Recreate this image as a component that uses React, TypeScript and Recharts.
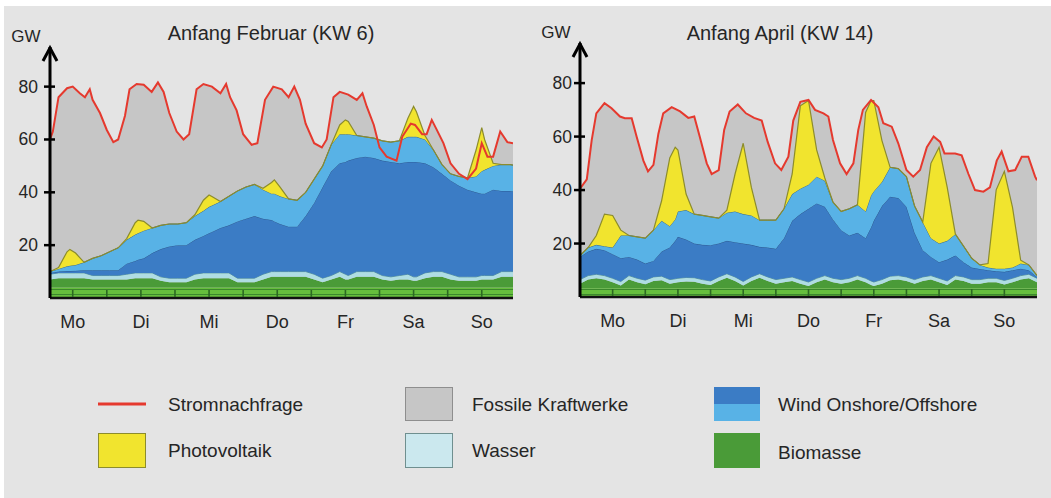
import React from 'react';
import { ComposedChart, Area, Line, XAxis, YAxis } from 'recharts';

// ---------------- Anfang Februar (KW 6) ----------------
const febHours = [0, 3, 6, 7, 9, 12, 15, 18, 21, 24, 27, 30, 31, 33, 36, 39, 42, 45, 48, 51, 54, 56, 57, 60, 63, 66, 69, 72, 75, 78, 79, 81, 84, 87, 90, 93, 96, 99, 102, 104, 105, 108, 111, 114, 117, 120, 123, 126, 128, 129, 132, 135, 138, 141, 144, 147, 150, 152, 153, 156, 159, 162, 163];
const febBiomassBase = [4, 4, 4, 4, 4, 4, 4, 4, 4, 4, 4, 4, 4, 4, 4, 4, 4, 4, 4, 4, 4, 4, 4, 4, 4, 4, 4, 4, 4, 4, 4, 4, 4, 4, 4, 4, 4, 4, 4, 4, 4, 4, 4, 4, 4, 4, 4, 4, 4, 4, 4, 4, 4, 4, 4, 4, 4, 4, 4, 4, 4, 4, 4];
const febBiomassTop = [7, 7.5, 7.5, 7.5, 7.5, 7.5, 7, 7, 7, 7, 7, 7.5, 7.5, 7.5, 7.5, 6.5, 6, 6, 6, 7, 7.5, 7.5, 7.5, 7.5, 7.5, 6, 6, 6, 7, 8, 8, 8, 8, 8, 8, 7, 6, 7, 8, 7, 7, 8, 8, 8, 7, 6.5, 7, 7, 6.5, 6.5, 7.5, 8, 8, 7, 6.5, 6.5, 6.5, 7, 7, 7, 8, 8, 8];
const febWaterTop = [9, 9.5, 9.5, 9.5, 9.5, 9.5, 8.5, 8.5, 8.5, 8.5, 9, 9.5, 9.5, 9.5, 9.5, 8, 7.5, 7.5, 7.5, 9, 9.5, 9.5, 9.5, 9.5, 9.5, 7.5, 7.5, 7.5, 9, 10, 10, 10, 10, 10, 10, 9, 7.5, 8.5, 10, 9, 8.5, 10, 10, 10, 8.5, 8, 8.5, 9, 8, 8, 9.5, 10, 10, 9, 8, 8, 8, 8.5, 8.5, 8.5, 10, 10, 10];
const febWindOnTop = [9.5, 10, 10.2, 10.2, 10.3, 10.5, 10.5, 10.5, 10.5, 10.5, 13, 14, 14.5, 15, 17, 18.5, 19.5, 20, 20, 22, 23.5, 24.5, 25, 26.5, 27.5, 29, 30, 31, 30, 29.5, 29, 28, 27, 27, 31, 36, 42, 48, 51, 51.5, 52, 53, 53.5, 53, 52, 51.5, 51, 51.5, 51.5, 51.5, 51, 49.5, 47, 44.5, 42.5, 41, 40, 39.5, 39.5, 41, 40.5, 40.5, 40.3];
const febWindOffTop = [10, 11, 12, 12.2, 12.5, 13.5, 15, 16, 17.5, 19, 22, 24, 24.5, 25.5, 26.5, 27.5, 28, 28, 28.5, 31, 33, 34.5, 35, 36.5, 38.5, 40.5, 42, 43, 41, 39.5, 39.5, 38.5, 37.5, 37, 40, 45, 50, 58, 62, 62, 62, 61.5, 61, 60.5, 59.5, 59, 59.5, 61, 61, 61, 60, 56, 50.5, 47, 46, 45.5, 46, 48, 48.5, 50, 50.5, 50.5, 50.3];
const febSolar = [0, 0.5, 5.5, 6.2, 4.5, 0, 0, 0, 0, 0, 0.5, 4.5, 5, 3.5, 0, 0, 0, 0, 0, 0.5, 4, 4.5, 3.4, 0, 0, 0, 0, 0, 0.5, 4.2, 5.2, 3.5, 0, 0, 0, 0, 0, 0, 3.5, 5.4, 4.8, 0, 0, 0, 0, 0, 0, 7, 11.5, 9.5, 1.5, 0, 0, 0, 0, 0, 10, 16.5, 11.5, 1, 0, 0, 0];
const febDemandHours = [0, 1, 3, 6, 8, 10.5, 12.3, 14, 15, 17.6, 20, 22.3, 24, 26.4, 28, 30.5, 33, 35.8, 38, 40, 42, 44.6, 47, 49, 51.6, 54, 57, 60, 62, 63.4, 65.7, 68, 71, 73, 75.7, 78.6, 81.6, 84, 86, 88, 90, 93, 95.7, 97.4, 99.8, 102, 105, 108, 110, 111.5, 114, 116, 118.5, 122, 124, 127, 128.5, 131, 132.6, 134.4, 136, 138.5, 141, 144, 147, 150, 152, 154, 156, 158.5, 161, 163];
const febDemand = [60, 63, 76, 79.4, 80, 77.5, 76, 79, 75, 70, 63.6, 59, 60, 69, 79, 81, 80.7, 78, 81.6, 78, 70, 63, 60, 62, 79, 81, 80, 77.5, 81, 76, 71, 62, 58, 58.6, 75, 80, 79, 76, 80, 75, 66, 58.6, 57, 60, 76, 78, 77, 75, 77.5, 72.5, 65.5, 57, 53.5, 52, 61, 66, 65.5, 62, 62, 67.4, 64, 58.6, 51, 47, 45, 49, 58.6, 53.5, 53.5, 63, 59, 58.6];
const febTickHours = [8, 20, 32, 44, 56, 68, 80, 92, 104, 116, 128, 140, 152];
const febLabelHours = [8, 32, 56, 80, 104, 128, 152];

// ---------------- Anfang April (KW 14) ----------------
const aprHours = [0, 3, 6, 9, 12, 15, 18, 21, 24, 27, 30, 33, 35, 36, 39, 42, 45, 48, 51, 54, 57, 60, 63, 66, 69, 72, 75, 78, 81, 84, 87, 90, 93, 96, 99, 102, 105, 107, 108, 111, 114, 117, 120, 123, 126, 129, 132, 135, 138, 141, 144, 147, 150, 153, 156, 159, 162, 165, 168];
const aprBiomassBase = [3.3, 3.3, 3.3, 3.3, 3.3, 3.3, 3.3, 3.3, 3.3, 3.3, 3.3, 3.3, 3.3, 3.3, 3.3, 3.3, 3.3, 3.3, 3.3, 3.3, 3.3, 3.3, 3.3, 3.3, 3.3, 3.3, 3.3, 3.3, 3.3, 3.3, 3.3, 3.3, 3.3, 3.3, 3.3, 3.3, 3.3, 3.3, 3.3, 3.3, 3.3, 3.3, 3.3, 3.3, 3.3, 3.3, 3.3, 3.3, 3.3, 3.3, 3.3, 3.3, 3.3, 3.3, 3.3, 3.3, 3.3, 3.3, 3.3];
const aprBiomassTop = [5, 6.5, 7, 6.5, 5.5, 4.3, 6.5, 5.5, 4.8, 6, 6.3, 5, 5.3, 5.5, 5.8, 5.7, 5, 4.5, 6, 7.2, 6, 4.3, 6, 7.2, 6, 5, 5.5, 6, 5, 4.1, 5.5, 6.5, 5.5, 5, 5.5, 6.5, 5.5, 4.5, 4.1, 5, 6.3, 6.5, 6, 5, 6, 6.5, 5.5, 4.5, 6.5, 6, 5, 5, 5.5, 5.5, 4.7, 5.5, 6.5, 7, 5.5];
const aprWaterTop = [6.5, 8, 8.5, 8, 7, 5.8, 8, 7, 6.3, 7.5, 7.8, 6.5, 6.8, 7, 7.3, 7.2, 6.5, 6, 7.5, 8.7, 7.5, 5.8, 7.5, 8.7, 7.5, 6.5, 7, 7.5, 6.5, 5.6, 7, 8, 7, 6.5, 7, 8, 7, 6, 5.6, 6.5, 7.8, 8, 7.5, 6.5, 7.5, 8, 7, 6, 8, 7.5, 6.5, 6.5, 7, 7, 6.2, 7, 8, 8.5, 7];
const aprWindOnTop = [15, 17, 18, 17.5, 16, 14.5, 15, 14, 12.5, 13.5, 17, 18.5, 21, 22.5, 21.5, 20, 19.5, 19.4, 20, 21, 20.5, 20, 19.5, 18.75, 18.5, 18, 22, 28.5, 31, 33, 35, 33.75, 29, 25, 23, 24, 22, 26, 28.5, 34, 37.5, 37, 33.75, 24, 17.5, 15, 13, 14, 15.5, 13, 11, 10.5, 10, 9.6, 9.4, 10, 10.6, 10, 7.5];
const aprWindOffTop = [15.5, 18.5, 19.5, 19, 18.5, 23, 23, 22.5, 22, 25, 28.5, 26.5, 29, 32, 32.5, 31, 30.5, 30, 29.5, 31.5, 32, 31, 30.5, 28.75, 28.75, 28.75, 33, 38.5, 40.5, 42, 45, 43.5, 35.5, 32, 33, 34.5, 32, 38, 39.5, 43, 48.5, 48, 45, 34, 28, 22, 20, 21, 23.5, 19, 14.5, 12, 11, 10.6, 10.6, 11, 12.5, 12, 8];
const aprSolar = [0, 0, 3.5, 12, 12, 2, 0, 0, 0, 0, 7.5, 25.5, 27, 23, 6, 0, 0, 0, 0, 1, 14, 26.5, 10.5, 0, 0, 0, 0, 7.5, 31, 31.5, 10, 1, 0, 0, 0, 0, 37, 35.5, 34, 15.5, 0, 0, 0, 0, 0, 28, 36, 20, 0, 0, 0, 0, 1.5, 29.5, 36.4, 22.5, 1.25, 0, 0];
const aprDemandHours = [0, 2.5, 4.3, 6, 9, 11.6, 14.7, 16.5, 19, 20.8, 23.3, 25, 27, 28.8, 30.6, 33.7, 36.8, 39.8, 42, 44, 46.6, 48.4, 51, 53, 55, 58, 61, 64, 66.8, 69, 71.7, 74, 76.6, 78.4, 81, 84, 86.4, 89.5, 91.3, 93, 95.6, 98, 100.5, 102.3, 104, 107, 109.7, 111.5, 114.6, 117, 120, 122.5, 125, 127.5, 130, 132.4, 134, 137.9, 140.3, 142.8, 145.2, 148.3, 150.7, 153.2, 155, 157.5, 160, 162.4, 164.8, 167.3, 168];
const aprDemand = [40.5, 44, 58.7, 68.7, 72.5, 70.6, 67.5, 66.9, 66.9, 60, 51, 47, 49.4, 61, 68.7, 71, 69.4, 67, 67.5, 60, 50, 46, 47.5, 62.5, 69.4, 72, 68.7, 67, 66, 58, 50, 47.5, 52.5, 66, 73, 73.7, 70, 68.7, 67.5, 58.7, 50, 46, 50, 62.5, 70, 73.7, 71, 65, 63.7, 57.5, 47.5, 45, 47.5, 56, 60, 58, 53.7, 53.7, 53, 46, 40, 39.4, 41, 51, 54.4, 47, 47.5, 52.5, 52.5, 45, 43.7];
const aprTickHours = [12, 24, 36, 48, 60, 72, 84, 96, 108, 120, 132, 144, 156];
const aprLabelHours = [12, 36, 60, 84, 108, 132, 156];

const dayLabels = ['Mo', 'Di', 'Mi', 'Do', 'Fr', 'Sa', 'So'];
const yTicks = [20, 40, 60, 80, 95];

const FONT = '"Liberation Sans", Arial, Helvetica, sans-serif';
const TEXT = '#262626';

const C = {
  bg: '#e4e4e4',
  fossil: '#c6c6c6',
  demand: '#e5392e',
  pv: '#f1e42e',
  pvStroke: '#8c8c2c',
  windOn: '#3b7cc5',
  windOnStroke: '#2a5b95',
  windOff: '#58b2e6',
  windOffStroke: '#3a6d8c',
  water: '#afdde3',
  waterStroke: '#5f9c9b',
  bioDark: '#4a9b38',
  bioLight: '#66be3d',
  bioLine: '#3b882c',
};

function buildRows(hours: number[], base: number[], bioTop: number[], waterTop: number[], onTop: number[], offTop: number[], pv: number[]) {
  return hours.map((h, i) => ({
    h,
    bioA: base[i],
    bioB: Math.max(0, bioTop[i] - base[i]),
    water: Math.max(0, waterTop[i] - bioTop[i]),
    windOn: Math.max(0, onTop[i] - waterTop[i]),
    windOff: Math.max(0, offTop[i] - onTop[i]),
    pv: pv[i],
  }));
}

function buildDemand(hours: number[], values: number[]) {
  return hours.map((h, i) => ({ h, d: values[i] }));
}

const febRows = buildRows(febHours, febBiomassBase, febBiomassTop, febWaterTop, febWindOnTop, febWindOffTop, febSolar);
const febDemandRows = buildDemand(febDemandHours, febDemand);
const aprRows = buildRows(aprHours, aprBiomassBase, aprBiomassTop, aprWaterTop, aprWindOnTop, aprWindOffTop, aprSolar);
const aprDemandRows = buildDemand(aprDemandHours, aprDemand);

function makeXTick(labelHours: number[]) {
  return (props: any) => {
    const { x, y, payload } = props;
    const idx = labelHours.indexOf(payload.value);
    return (
      <g>
        <line x1={x} x2={x} y1={y - 1} y2={y - 8} stroke="#2c6a22" strokeWidth={1.6} />
        {idx >= 0 && (
          <text x={x} y={y + 30} textAnchor="middle" fontSize={18} fontFamily={FONT} fill={TEXT}>
            {dayLabels[idx]}
          </text>
        )}
      </g>
    );
  };
}

function makeYTick(labelOffset: number) {
  return (props: any) => {
    const { x, y, payload } = props;
    if (payload.value === 95) {
      return (
        <g>
          <polyline points={`${x - 7},${y + 14} ${x},${y + 1} ${x + 7},${y + 14}`} fill="none" stroke="#000" strokeWidth={3} />
          <text x={x - 24} y={y - 5} textAnchor="middle" fontSize={17} fontFamily={FONT} fill={TEXT}>GW</text>
        </g>
      );
    }
    return (
      <g>
        <line x1={x - 6} x2={x + 5} y1={y} y2={y} stroke="#000" strokeWidth={2.5} />
        <text x={x - labelOffset} y={y + 6} textAnchor="end" fontSize={17.5} fontFamily={FONT} fill={TEXT}>
          {payload.value}
        </text>
      </g>
    );
  };
}

type PanelProps = {
  id: string;
  rows: any[];
  demandRows: any[];
  xMax: number;
  tickHours: number[];
  labelHours: number[];
  width: number;
  height: number;
  margin: { top: number; right: number; bottom: number; left: number };
  yAxisWidth: number;
  labelOffset: number;
};

function Panel(p: PanelProps) {
  const pat = `stripes-${p.id}`;
  return (
    <ComposedChart width={p.width} height={p.height} data={p.rows} margin={p.margin}>
      <defs>
        <pattern id={pat} width={8} height={5} patternUnits="userSpaceOnUse">
          <rect width={8} height={5} fill={C.bioLight} />
          <rect y={4} width={8} height={1} fill={C.bioLine} />
        </pattern>
      </defs>
      <XAxis
        dataKey="h"
        type="number"
        domain={[0, p.xMax]}
        allowDataOverflow
        ticks={p.tickHours}
        interval={0}
        tickSize={0}
        tickMargin={0}
        height={30}
        tickLine={false}
        axisLine={{ stroke: '#111', strokeWidth: 2.5 }}
        tick={makeXTick(p.labelHours)}
      />
      <YAxis
        type="number"
        domain={[0, 95]}
        allowDataOverflow
        ticks={yTicks}
        interval={0}
        tickSize={0}
        tickMargin={0}
        width={p.yAxisWidth}
        tickLine={false}
        axisLine={{ stroke: '#000', strokeWidth: 3 }}
        tick={makeYTick(p.labelOffset)}
      />
      <Area data={p.demandRows} dataKey="d" type="linear" fill={C.fossil} fillOpacity={1} stroke="none" isAnimationActive={false} />
      <Area dataKey="bioA" stackId="s" type="linear" fill={`url(#${pat})`} fillOpacity={1} stroke="none" isAnimationActive={false} />
      <Area dataKey="bioB" stackId="s" type="linear" fill={C.bioDark} fillOpacity={1} stroke="none" isAnimationActive={false} />
      <Area dataKey="water" stackId="s" type="linear" fill={C.water} fillOpacity={1} stroke={C.waterStroke} strokeWidth={1} isAnimationActive={false} />
      <Area dataKey="windOn" stackId="s" type="linear" fill={C.windOn} fillOpacity={1} stroke={C.windOnStroke} strokeWidth={1} isAnimationActive={false} />
      <Area dataKey="windOff" stackId="s" type="linear" fill={C.windOff} fillOpacity={1} stroke={C.windOffStroke} strokeWidth={1} isAnimationActive={false} />
      <Area dataKey="pv" stackId="s" type="linear" fill={C.pv} fillOpacity={1} stroke={C.pvStroke} strokeWidth={1.2} isAnimationActive={false} />
      <Line data={p.demandRows} dataKey="d" type="linear" stroke={C.demand} strokeWidth={2} dot={false} activeDot={false} isAnimationActive={false} />
    </ComposedChart>
  );
}

function Legend() {
  const t = { fontSize: 19, fontFamily: FONT, fill: TEXT } as const;
  return (
    <svg width={1051} height={498} style={{ position: 'absolute', left: 0, top: 0, pointerEvents: 'none' }}>
      <text x={271} y={40} textAnchor="middle" fontSize={20} fontFamily={FONT} fill={TEXT}>Anfang Februar (KW 6)</text>
      <text x={780} y={40} textAnchor="middle" fontSize={20} fontFamily={FONT} fill={TEXT}>Anfang April (KW 14)</text>

      <line x1={98} x2={146} y1={404} y2={404} stroke={C.demand} strokeWidth={3} />
      <text x={168} y={411} {...t}>Stromnachfrage</text>

      <rect x={98.5} y={433.5} width={47} height={34} fill={C.pv} stroke={C.pvStroke} strokeWidth={1} />
      <text x={168} y={457} {...t}>Photovoltaik</text>

      <rect x={405.5} y={387.5} width={47} height={33} fill={C.fossil} stroke="#8e8e8e" strokeWidth={1} />
      <text x={472} y={411} {...t}>Fossile Kraftwerke</text>

      <rect x={405.5} y={433.5} width={47} height={34} fill="#cbe8ee" stroke="#6f8f8f" strokeWidth={1} />
      <text x={472} y={457} {...t}>Wasser</text>

      <rect x={714} y={387} width={46} height={17} fill={C.windOn} />
      <rect x={714} y={404} width={46} height={17} fill={C.windOff} />
      <text x={778} y={411} {...t}>Wind Onshore/Offshore</text>

      <rect x={714} y={433} width={46} height={35} fill={C.bioDark} />
      <text x={778} y={459} {...t}>Biomasse</text>
    </svg>
  );
}

export default function App() {
  return (
    <div style={{ position: 'absolute', left: 0, top: 0, width: 1051, height: 498, background: '#ffffff', overflow: 'hidden', fontFamily: FONT }}>
      <div style={{ position: 'absolute', left: 4, top: 6, width: 1047, height: 492, background: C.bg }} />
      <div style={{ position: 'absolute', left: 0, top: 0 }}>
        <Panel
          id="feb"
          rows={febRows}
          demandRows={febDemandRows}
          xMax={163}
          tickHours={febTickHours}
          labelHours={febLabelHours}
          width={525}
          height={340}
          margin={{ top: 47, right: 12, bottom: 12, left: 0 }}
          yAxisWidth={50}
          labelOffset={12}
        />
      </div>
      <div style={{ position: 'absolute', left: 525, top: 0 }}>
        <Panel
          id="apr"
          rows={aprRows}
          demandRows={aprDemandRows}
          xMax={168}
          tickHours={aprTickHours}
          labelHours={aprLabelHours}
          width={526}
          height={340}
          margin={{ top: 43, right: 14, bottom: 13, left: 0 }}
          yAxisWidth={55}
          labelOffset={8}
        />
      </div>
      <Legend />
    </div>
  );
}
